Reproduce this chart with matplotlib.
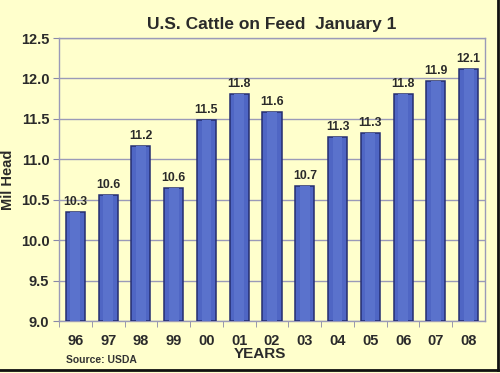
import matplotlib
matplotlib.use("Agg")
import matplotlib.pyplot as plt
from matplotlib.lines import Line2D

years = ["96", "97", "98", "99", "00", "01", "02", "03", "04", "05", "06", "07", "08"]
values = [10.35, 10.56, 11.17, 10.64, 11.49, 11.81, 11.58, 10.67, 11.27, 11.32, 11.81, 11.97, 12.12]
labels = ["10.3", "10.6", "11.2", "10.6", "11.5", "11.8", "11.6", "10.7", "11.3", "11.3", "11.8", "11.9", "12.1"]
yticks = [9.0, 9.5, 10.0, 10.5, 11.0, 11.5, 12.0, 12.5]

plt.rcParams['font.family'] = ['Liberation Sans', 'DejaVu Sans']
bg = '#ffffcc'
txt = '#2a2a2a'

fig = plt.figure(figsize=(5.0, 3.73), dpi=100, facecolor=bg)
ax = fig.add_axes([0.118, 0.1394, 0.852, 0.7586], facecolor=bg)

x = list(range(len(years)))
base = 9.0
heights = [v - base for v in values]
ax.bar(x, heights, bottom=base, width=0.58, color='#4f66c4', edgecolor='#252d70', linewidth=1.1, zorder=3)
ax.bar(x, heights, bottom=base, width=0.30, color='#5a72cc', edgecolor='none', linewidth=0, zorder=4)

for xi, v, lab in zip(x, values, labels):
    ax.text(xi, v + 0.05, lab, ha='center', va='bottom', fontsize=8.8, fontweight='bold', color=txt, zorder=5)

ax.set_xlim(-0.5, len(years) - 0.5)
ax.set_ylim(9.0, 12.5)
ax.set_yticks(yticks)
ax.set_yticklabels([f"{t:.1f}" for t in yticks], fontsize=10.5, fontweight='bold', color=txt)
ax.set_xticks(x)
ax.set_xticklabels(years, fontsize=10.5, fontweight='bold', color=txt)
ax.set_xticks([i + 0.5 for i in x[:-1]] + [-0.5], minor=True)
ax.tick_params(axis='x', which='major', length=0, pad=9)
ax.tick_params(axis='x', which='minor', length=4, color='#8888a8', direction='out')
ax.tick_params(axis='y', length=4, color='#8888a8', pad=3)

ax.grid(axis='y', color='#9a9ab8', linewidth=1.0, zorder=0)
for s in ax.spines.values():
    s.set_color('#9a9ab8')
    s.set_linewidth(1.0)

ax.set_ylabel("Mil Head", fontsize=10.5, fontweight='bold', color=txt, labelpad=4)
fig.text(0.52, 0.05, "YEARS", ha='center', va='center', fontsize=11, fontweight='bold', color=txt)
fig.text(0.132, 0.035, "Source: USDA", ha='left', va='center', fontsize=7.5, fontweight='bold', color='#333333')
fig.text(0.544, 0.933, "U.S. Cattle on Feed  January 1", ha='center', va='center', fontsize=12.5, fontweight='bold', color=txt)

# dark frame shadow at right and bottom
fig.add_artist(Line2D([0.996, 0.996], [0.008, 1.0], transform=fig.transFigure, color='#111111', linewidth=2))
fig.add_artist(Line2D([0.0, 0.996], [0.008, 0.008], transform=fig.transFigure, color='#111111', linewidth=2))

fig.savefig("out.png", dpi=100, facecolor=bg)
